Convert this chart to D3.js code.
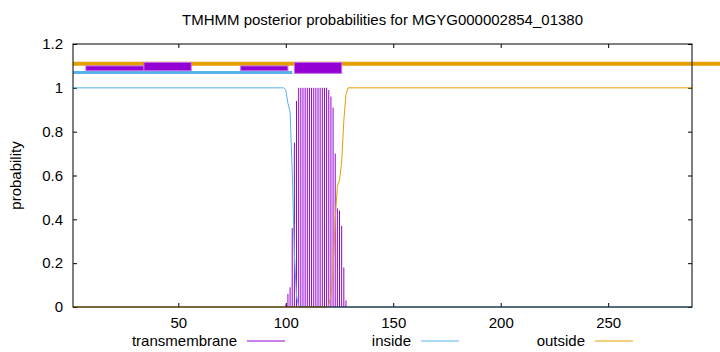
<!DOCTYPE html>
<html>
<head>
<meta charset="utf-8">
<script src="https://cdn.jsdelivr.net/npm/d3@7"></script>
<style>
  body { margin: 0; background: #fff; }
  svg { display: block; }
  text { font-family: "Liberation Sans", Arial, sans-serif; font-size: 15px; fill: #000; }
</style>
</head>
<body>
<div id="chart"></div>
<script>
// ---- data ----
const xTicks = [50, 100, 150, 200, 250];
const yTicks = [0, 0.2, 0.4, 0.6, 0.8, 1, 1.2];

// transmembrane impulses, one per residue
const tmPos = [100, 101, 102, 103, 104, 105, 106, 107, 108, 109, 110, 111, 112, 113, 114,
               115, 116, 117, 118, 119, 120, 121, 122, 123, 124, 125, 126, 127, 128];
const tmVal = [0.01, 0.06, 0.09, 0.36, 0.75, 0.94, 1, 1, 1, 1, 1, 1, 1, 1, 1,
               1, 1, 1, 1, 1, 0.99, 0.96, 0.91, 0.70, 0.45, 0.44, 0.37, 0.18, 0.03];

// inside / outside lines (vertices)
const insidePos = [1, 99, 100, 101, 102, 103, 104, 105, 106, 289];
const insideVal = [1, 1, 0.99, 0.93, 0.89, 0.62, 0.24, 0.05, 0, 0];
const outsidePos = [1, 119, 120, 121, 122, 123, 124, 125, 126, 127, 128, 129, 289];
const outsideVal = [0, 0, 0.01, 0.05, 0.16, 0.40, 0.55, 0.58, 0.66, 0.85, 0.97, 1, 1];

// topology bars on top
const outsideBar = [1, 302, 1.11];
const insideBar = [1, 103, 1.07];
const helixBoxes = [[7, 34, 1.078, 1.100], [34, 56, 1.078, 1.116],
                    [79, 101, 1.078, 1.100], [104, 126, 1.066, 1.116]];

const legendNames = ["transmembrane", "inside", "outside"];

// ---- layout ----
const W = 720, H = 352;
const margin = {top: 44, right: 28, bottom: 45, left: 73};
const width = W - margin.left - margin.right,
      height = H - margin.top - margin.bottom;

const cTM = "#9400d3", cIn = "#56b4e9", cOut = "#e69f00";

const svg = d3.select("#chart").append("svg")
  .attr("width", W)
  .attr("height", H);

const g = svg.append("g")
  .attr("transform", `translate(${margin.left},${margin.top})`);

const x = d3.scaleLinear().domain([1, 289]).range([0, width]);
const y = d3.scaleLinear().domain([0, 1.2]).range([height, 0]);

// title
svg.append("text")
  .attr("x", margin.left + width / 2)
  .attr("y", 25)
  .attr("text-anchor", "middle")
  .text("TMHMM posterior probabilities for MGYG000002854_01380");

// y label
svg.append("text")
  .attr("transform", `translate(21,${margin.top + height / 2}) rotate(-90)`)
  .attr("text-anchor", "middle")
  .text("probability");

// axes (ticks inward, mirrored)
const tl = 4;
g.append("g")
  .attr("transform", `translate(0,${height})`)
  .call(d3.axisBottom(x).tickValues(xTicks).tickSize(-tl).tickPadding(10))
  .call(a => a.select(".domain").remove());
g.append("g")
  .call(d3.axisTop(x).tickValues(xTicks).tickSize(-tl).tickFormat(""))
  .call(a => a.select(".domain").remove());
g.append("g")
  .call(d3.axisLeft(y).tickValues(yTicks).tickSize(-tl).tickPadding(10).tickFormat(d3.format("")))
  .call(a => a.select(".domain").remove());
g.append("g")
  .attr("transform", `translate(${width},0)`)
  .call(d3.axisRight(y).tickValues(yTicks).tickSize(-tl).tickFormat(""))
  .call(a => a.select(".domain").remove());
g.selectAll(".tick text")
  .style("font-family", "'Liberation Sans', Arial, sans-serif")
  .style("font-size", "15px")
  .attr("fill", "#000");
g.selectAll(".tick line").attr("stroke", "#000");

// transmembrane impulses
const tm = tmPos.map((p, i) => ({p, v: tmVal[i]}));
g.selectAll(".imp")
  .data(tm)
  .enter().append("line")
  .attr("class", "imp")
  .attr("x1", d => x(d.p)).attr("x2", d => x(d.p))
  .attr("y1", y(0)).attr("y2", d => y(d.v))
  .attr("stroke", cTM)
  .attr("stroke-width", 1);

const line = d3.line().x(d => x(d.p)).y(d => y(d.v));

g.append("path")
  .datum(insidePos.map((p, i) => ({p, v: insideVal[i]})))
  .attr("d", line)
  .attr("fill", "none")
  .attr("stroke", cIn)
  .attr("stroke-width", 1);

g.append("path")
  .datum(outsidePos.map((p, i) => ({p, v: outsideVal[i]})))
  .attr("d", line)
  .attr("fill", "none")
  .attr("stroke", cOut)
  .attr("stroke-width", 1);

// topology bars
g.append("line")
  .attr("x1", x(outsideBar[0])).attr("x2", x(outsideBar[1]))
  .attr("y1", y(outsideBar[2])).attr("y2", y(outsideBar[2]))
  .attr("stroke", cOut).attr("stroke-width", 4);
g.append("line")
  .attr("x1", x(insideBar[0])).attr("x2", x(insideBar[1]))
  .attr("y1", y(insideBar[2])).attr("y2", y(insideBar[2]))
  .attr("stroke", cIn).attr("stroke-width", 3);
g.selectAll(".helix")
  .data(helixBoxes)
  .enter().append("rect")
  .attr("class", "helix")
  .attr("x", d => x(d[0]))
  .attr("width", d => x(d[1]) - x(d[0]))
  .attr("y", d => y(d[3]))
  .attr("height", d => y(d[2]) - y(d[3]))
  .attr("fill", cTM)
  .attr("stroke", "#c070e8")
  .attr("stroke-width", 1);

// border
g.append("rect")
  .attr("x", 0).attr("y", 0)
  .attr("width", width).attr("height", height)
  .attr("fill", "none")
  .attr("stroke", "#000")
  .attr("stroke-width", 1);

// legend
const legEnd = [237, 411, 585];
const legColors = [cTM, cIn, cOut];
legendNames.forEach((n, i) => {
  svg.append("text")
    .attr("x", legEnd[i]).attr("y", 346)
    .attr("text-anchor", "end")
    .text(n);
  svg.append("line")
    .attr("x1", legEnd[i] + 10).attr("x2", legEnd[i] + 48)
    .attr("y1", 341).attr("y2", 341)
    .attr("stroke", legColors[i]).attr("stroke-width", 1);
});
</script>
</body>
</html>
